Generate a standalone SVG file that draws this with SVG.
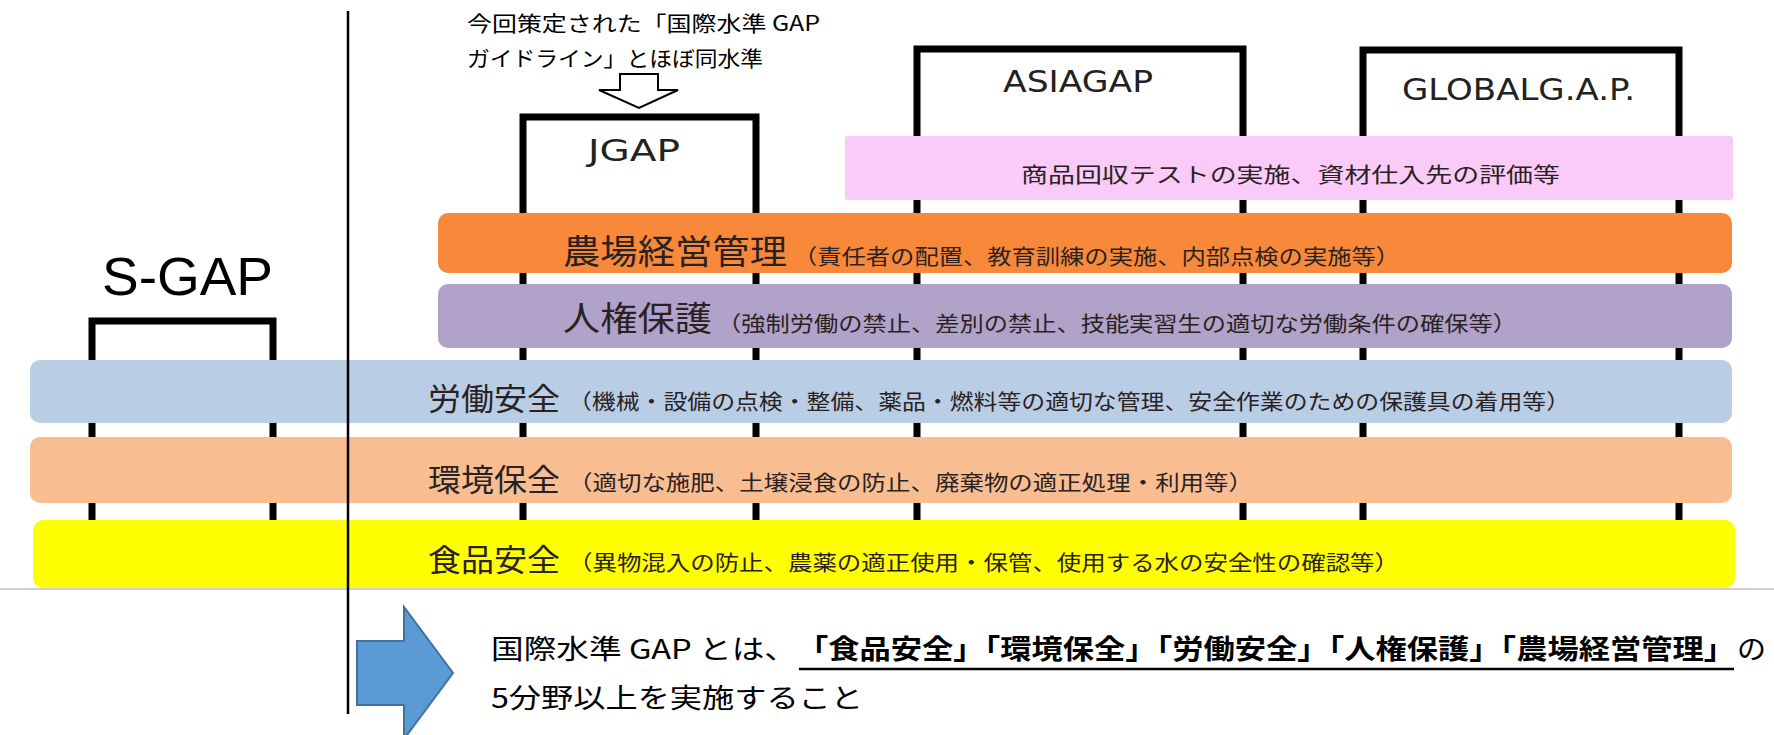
<svg xmlns="http://www.w3.org/2000/svg" width="1774" height="735" viewBox="0 0 1774 735">
<style>
.col{fill:none;stroke:#000;stroke-width:7;stroke-linejoin:miter}
.lbl{font-family:"DejaVu Sans","Noto Sans",sans-serif;fill:#222}
.jp{font-family:"Noto Sans CJK JP","Noto Sans",sans-serif;fill:#2a2222}
.big{font-size:34px}
.mid{font-size:31px}
.sm{font-size:21px}
.note{font-family:"Noto Sans CJK JP",sans-serif;font-size:21px;fill:#000}
.bot{font-family:"Noto Sans CJK JP",sans-serif;font-size:27px;fill:#000}
</style>
<rect width="1774" height="735" fill="#fff"/>

<g id="columns">
<path class="col" d="M92 540V321H273V540"/>
<path class="col" d="M523 540V117H756V540"/>
<path class="col" d="M917 540V49H1243V540"/>
<path class="col" d="M1363 540V50H1679V540"/>
</g>

<g id="sgap">
<text class="lbl" x="102" y="295" font-family="Liberation Sans" style="font-family:'Liberation Sans',sans-serif;font-size:53px;fill:#000" textLength="171" lengthAdjust="spacingAndGlyphs">S-GAP</text>
</g>
<g id="jgap">
<text class="lbl" x="588" y="161" font-size="31" textLength="92" lengthAdjust="spacingAndGlyphs">JGAP</text>
</g>
<g id="asiagap">
<text class="lbl" x="1003" y="92" font-size="31" textLength="150" lengthAdjust="spacingAndGlyphs">ASIAGAP</text>
</g>
<g id="globalgap">
<text class="lbl" x="1402" y="100" font-size="31" textLength="233" lengthAdjust="spacingAndGlyphs">GLOBALG.A.P.</text>
</g>

<g id="bar-extra">
<rect x="845" y="136" width="888" height="64" rx="3" fill="#FACBF8"/>
<text class="jp sm" x="1021" y="182" textLength="539" lengthAdjust="spacingAndGlyphs">商品回収テストの実施、資材仕入先の評価等</text>
</g>
<g id="bar-management">
<rect x="438" y="213" width="1294" height="60" rx="10" fill="#F8893A"/>
<text class="jp big" x="563" y="264" textLength="224" lengthAdjust="spacingAndGlyphs">農場経営管理</text>
<text class="jp sm" x="793" y="264" textLength="607" lengthAdjust="spacingAndGlyphs">（責任者の配置、教育訓練の実施、内部点検の実施等）</text>
</g>
<g id="bar-human-rights">
<rect x="438" y="284" width="1294" height="64" rx="10" fill="#B0A2C9"/>
<text class="jp big" x="563" y="331" textLength="149" lengthAdjust="spacingAndGlyphs">人権保護</text>
<text class="jp sm" x="717" y="331" textLength="800" lengthAdjust="spacingAndGlyphs">（強制労働の禁止、差別の禁止、技能実習生の適切な労働条件の確保等）</text>
</g>
<g id="bar-labor">
<rect x="30" y="360" width="1702" height="63" rx="10" fill="#B9CDE5"/>
<text class="jp mid" x="428" y="410" textLength="132" lengthAdjust="spacingAndGlyphs">労働安全</text>
<text class="jp sm" x="568" y="409" textLength="1002" lengthAdjust="spacingAndGlyphs">（機械・設備の点検・整備、薬品・燃料等の適切な管理、安全作業のための保護具の着用等）</text>
</g>
<g id="bar-environment">
<rect x="30" y="437" width="1702" height="66" rx="10" fill="#F9BD92"/>
<text class="jp mid" x="428" y="491" textLength="132" lengthAdjust="spacingAndGlyphs">環境保全</text>
<text class="jp sm" x="568" y="490" textLength="685" lengthAdjust="spacingAndGlyphs">（適切な施肥、土壌浸食の防止、廃棄物の適正処理・利用等）</text>
</g>
<g id="bar-food">
<rect x="33" y="520" width="1702" height="68" rx="10" fill="#FFFF00"/>
<text class="jp mid" x="428" y="571" textLength="132" lengthAdjust="spacingAndGlyphs">食品安全</text>
<text class="jp sm" x="568" y="570" textLength="831" lengthAdjust="spacingAndGlyphs">（異物混入の防止、農薬の適正使用・保管、使用する水の安全性の確認等）</text>
</g>

<line x1="0" y1="589" x2="1774" y2="589" stroke="#d0d0d0" stroke-width="2"/>
<line x1="348" y1="11" x2="348" y2="714" stroke="#000" stroke-width="2.5"/>

<g id="note">
<text class="note" x="467" y="31" textLength="353" lengthAdjust="spacingAndGlyphs">今回策定された「国際水準 GAP</text>
<text class="note" x="467" y="66" textLength="296" lengthAdjust="spacingAndGlyphs">ガイドライン」とほぼ同水準</text>
</g>

<g id="connectors">
<path d="M620 74H658V90H678L639 108L599 90H620Z" fill="#fff" stroke="#000" stroke-width="2" stroke-linejoin="miter"/>
<path d="M357 641H404V607L453 673L404 739V705H357Z" fill="#5B9BD5" stroke="#41719C" stroke-width="2"/>
</g>

<g id="summary">
<text class="bot" x="491" y="659" textLength="306" lengthAdjust="spacingAndGlyphs">国際水準 GAP とは、</text>
<text class="bot" x="797" y="659" font-weight="bold" textLength="938" lengthAdjust="spacingAndGlyphs">「食品安全」「環境保全」「労働安全」「人権保護」「農場経営管理」</text>
<text class="bot" x="1737" y="659" textLength="29" lengthAdjust="spacingAndGlyphs">の</text>
<line x1="799" y1="669" x2="1734" y2="669" stroke="#000" stroke-width="2.5"/>
<text class="bot" x="491" y="708" textLength="372" lengthAdjust="spacingAndGlyphs">5分野以上を実施すること</text>
</g>
</svg>
